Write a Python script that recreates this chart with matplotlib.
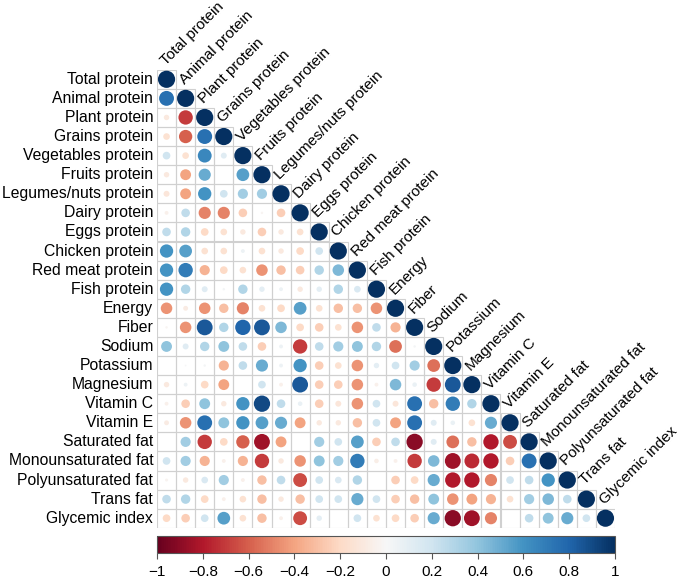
import matplotlib
matplotlib.use("Agg")
import matplotlib.pyplot as plt
from matplotlib.patches import Circle, Rectangle
import numpy as np

plt.rcParams['font.family'] = ['Liberation Sans', 'DejaVu Sans']

labels = ["Total protein", "Animal protein", "Plant protein", "Grains protein",
          "Vegetables protein", "Fruits protein", "Legumes/nuts protein",
          "Dairy protein", "Eggs protein", "Chicken protein", "Red meat protein",
          "Fish protein", "Energy", "Fiber", "Sodium", "Potassium", "Magnesium",
          "Vitamin C", "Vitamin E", "Saturated fat", "Monounsaturated fat",
          "Polyunsaturated fat", "Trans fat", "Glycemic index"]

# lower triangle, row by row (diagonal = 1 not listed)
corr_rows = [
    [],
    [0.75],
    [-0.1, -0.7],
    [-0.15, -0.6, 0.75],
    [0.2, -0.15, 0.65, 0.12],
    [-0.1, -0.4, 0.5, 0.0, 0.55],
    [-0.12, -0.4, 0.6, 0.2, 0.35, 0.35],
    [-0.05, 0.25, -0.5, -0.5, -0.25, -0.02, -0.25],
    [0.25, 0.3, -0.2, -0.15, -0.1, -0.25, -0.1, -0.15],
    [0.6, 0.55, -0.15, -0.15, 0.05, -0.15, -0.1, -0.2, 0.2],
    [0.6, 0.7, -0.35, -0.2, -0.15, -0.45, -0.3, -0.25, 0.3, 0.45],
    [0.6, 0.3, 0.12, 0.02, 0.3, 0.1, 0.05, -0.1, 0.1, 0.3, 0.15],
    [-0.45, -0.08, -0.45, -0.3, -0.5, -0.15, -0.2, 0.55, -0.15, -0.3, -0.3, -0.45],
    [-0.02, -0.45, 0.85, 0.3, 0.8, 0.85, 0.45, -0.2, -0.25, -0.15, -0.45, 0.25, -0.35],
    [0.4, 0.12, 0.3, 0.4, 0.25, -0.25, 0.05, -0.7, 0.25, 0.35, 0.4, 0.3, -0.55, 0.02],
    [0.0, 0.01, 0.02, -0.35, 0.25, 0.5, 0.05, 0.6, -0.25, -0.15, -0.45, 0.1, 0.2, 0.35, -0.55],
    [-0.1, 0.05, -0.2, -0.4, 0.0, 0.2, -0.05, 0.85, -0.25, -0.25, -0.45, -0.05, 0.45, 0.07,
     -0.7, 0.85],
    [-0.05, -0.25, 0.4, -0.1, 0.6, 0.9, 0.25, 0.07, -0.25, -0.12, -0.45, 0.2, -0.12, 0.75,
     -0.3, 0.7, 0.3],
    [-0.08, -0.45, 0.75, 0.4, 0.6, 0.55, 0.5, -0.4, -0.1, -0.1, -0.3, 0.2, -0.4, 0.75,
     0.12, 0.07, -0.15, 0.5],
    [0.0, 0.35, -0.7, -0.2, -0.6, -0.85, -0.4, 0.0, 0.35, 0.2, 0.55, -0.25, 0.25, -0.9,
     0.12, -0.55, -0.3, -0.8, -0.65],
    [0.2, 0.35, -0.35, -0.05, -0.35, -0.7, -0.1, -0.45, 0.4, 0.35, 0.7, -0.07, -0.05, -0.7,
     0.45, -0.85, -0.75, -0.8, -0.25, 0.75],
    [-0.03, -0.1, 0.15, 0.35, -0.05, -0.3, 0.25, -0.65, 0.2, 0.15, 0.3, 0.0, -0.25, -0.2,
     0.5, -0.8, -0.8, -0.5, 0.2, 0.25, 0.6],
    [0.25, 0.3, -0.2, -0.05, -0.15, -0.3, -0.1, -0.3, 0.2, 0.2, 0.5, 0.2, -0.25, -0.3,
     0.4, -0.45, -0.4, -0.35, -0.15, 0.35, 0.45, 0.25],
    [-0.2, -0.25, 0.2, 0.55, -0.15, -0.3, -0.05, -0.65, 0.1, 0.0, 0.2, -0.15, -0.2, -0.25,
     0.5, -0.9, -0.85, -0.5, 0.0, 0.25, 0.4, 0.5, 0.2],
]

n = len(labels)
cmap = plt.get_cmap("RdBu")
norm = matplotlib.colors.Normalize(-1, 1)

fig = plt.figure(figsize=(6.85, 5.81), dpi=100)
ax = fig.add_axes([157 / 685, 53 / 581, 458 / 685, 458.5 / 581])
ax.set_xlim(-0.5, n - 0.5)
ax.set_ylim(n - 0.5, -0.5)
ax.set_aspect("equal")
ax.axis("off")

for i in range(n):
    row = corr_rows[i] + [1.0]
    for j, r in enumerate(row):
        ax.add_patch(Rectangle((j - 0.5, i - 0.5), 1, 1, fill=False,
                               edgecolor="#d0d0d0", lw=0.8))
        if abs(r) > 0:
            ax.add_patch(Circle((j, i), 0.45 * np.sqrt(abs(r)),
                                facecolor=cmap(norm(r)), edgecolor="none"))
    # row label on the left
    ax.text(-0.7, i, labels[i], ha="right", va="center", fontsize=11.3)
    # diagonal label
    ax.text(i - 0.05, i - 0.72, labels[i], ha="left", va="baseline",
            rotation=45, rotation_mode="anchor", fontsize=11)

# colorbar
cax = fig.add_axes([157 / 685, 28 / 581, 458 / 685, 17 / 581])
sm = matplotlib.cm.ScalarMappable(norm=norm, cmap=cmap)
cb = fig.colorbar(sm, cax=cax, orientation="horizontal")
ticks = np.round(np.arange(-1, 1.01, 0.2), 1)
cb.set_ticks(ticks)
cb.set_ticklabels(["\u22121" if t == -1 else "1" if t == 1 else "0" if t == 0
                   else f"{t:g}".replace("-", "\u2212") for t in ticks])
cb.ax.tick_params(labelsize=11, length=4, width=0.8, color="#555555", pad=5)
cb.outline.set_edgecolor("#555555")
cb.outline.set_linewidth(0.8)

fig.savefig("out.png", dpi=100)
